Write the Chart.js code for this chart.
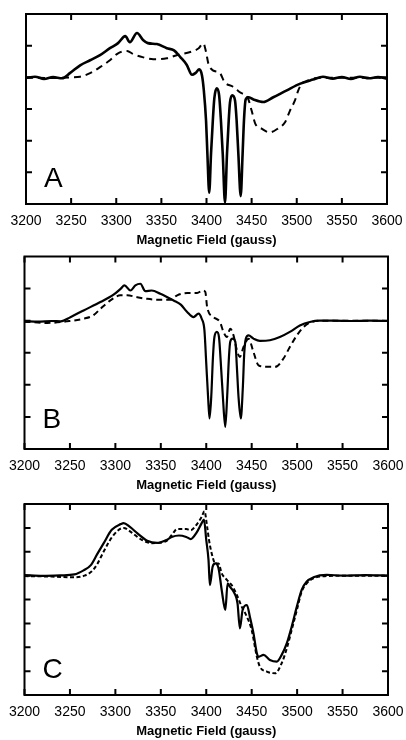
<!DOCTYPE html>
<html>
<head>
<meta charset="utf-8">
<script src="https://cdn.jsdelivr.net/npm/chart.js@4.4.1/dist/chart.umd.min.js"></script>
<style>
  body { margin: 0; background: #fff; }
  #wrap { position: relative; width: 406px; height: 740px; }
  #wrap canvas { position: absolute; left: 0; top: 0; }
</style>
</head>
<body>
<div id="wrap">
  <canvas id="chartA" width="406" height="248"></canvas>
  <canvas id="chartB" width="406" height="493"></canvas>
  <canvas id="chartC" width="406" height="739"></canvas>
</div>
<script>
// x ticks shared by all three panels
const fieldTicks = [3200, 3250, 3300, 3350, 3400, 3450, 3500, 3550, 3600];

// panel A
const aSolidField = [3200, 3210, 3220, 3230, 3240, 3249, 3260, 3271, 3282, 3293, 3302, 3310, 3315, 3323, 3330, 3335, 3345, 3356, 3364, 3371, 3378, 3384, 3388, 3392, 3395, 3397, 3399.5, 3401, 3403, 3405, 3407, 3408.7, 3411.3, 3414, 3416, 3418, 3420.5, 3422.7, 3424.6, 3426, 3428.6, 3431.6, 3433.4, 3435.3, 3437.9, 3440, 3441.5, 3443.4, 3446.3, 3452, 3463, 3474, 3489, 3504, 3518, 3529, 3540, 3550, 3560, 3570, 3580, 3590, 3600];
const aSolidValue = [3.98, 4.02, 3.95, 4.01, 3.97, 4.14, 4.38, 4.54, 4.7, 4.92, 5.08, 5.3, 5.11, 5.4, 5.17, 5.08, 5.05, 4.92, 4.85, 4.64, 4.4, 4.08, 4.14, 4.25, 4.06, 3.6, 2.63, 1.58, 0.36, 1.58, 2.63, 3.34, 3.65, 3.43, 2.63, 1.58, 0.04, 1.58, 2.63, 3.2, 3.43, 3.27, 2.63, 1.58, 0.25, 1.58, 2.63, 3.3, 3.37, 3.3, 3.22, 3.37, 3.59, 3.8, 3.93, 4.02, 3.96, 4.01, 3.95, 4.02, 3.97, 4.01, 3.96];
const aDashField = [3200, 3230, 3250, 3260, 3271, 3282, 3293, 3302, 3312, 3319, 3330, 3341, 3356, 3367, 3382, 3391, 3396.5, 3399.5, 3402, 3407, 3415, 3420, 3429, 3437, 3446, 3450, 3454, 3461, 3470, 3479, 3487, 3492.5, 3498, 3501.7, 3505.5, 3511, 3520, 3540, 3570, 3600];
const aDashValue = [3.99, 3.98, 4.0, 4.02, 4.13, 4.32, 4.54, 4.76, 4.83, 4.73, 4.63, 4.57, 4.6, 4.7, 4.8, 4.91, 5.07, 4.8, 4.44, 4.22, 4.13, 3.85, 3.71, 3.53, 3.33, 2.95, 2.54, 2.38, 2.26, 2.38, 2.58, 2.95, 3.27, 3.59, 3.8, 3.88, 3.97, 3.99, 3.99, 3.98];

// panel B
const bSolidField = [3200, 3215, 3230, 3240, 3250.5, 3265, 3283.5, 3298, 3306, 3310, 3316.5, 3322, 3327.5, 3333, 3340, 3349.5, 3364, 3372, 3379, 3386, 3391.5, 3395, 3398, 3400, 3402, 3403.6, 3405.5, 3407.4, 3409, 3411.7, 3414, 3416.5, 3418.3, 3420.9, 3423, 3425, 3426.4, 3429, 3432, 3433.7, 3435.5, 3438, 3440.3, 3441.8, 3443.6, 3446.5, 3452, 3459, 3470, 3481, 3492, 3503, 3514, 3525, 3540, 3560, 3580, 3600];
const bSolidValue = [3.98, 3.97, 3.99, 3.98, 4.11, 4.32, 4.58, 4.81, 5.0, 5.1, 4.94, 5.1, 5.15, 4.92, 4.94, 4.84, 4.63, 4.5, 4.27, 4.11, 4.22, 4.06, 3.7, 2.67, 1.63, 0.95, 1.63, 2.87, 3.49, 3.65, 3.49, 2.46, 1.63, 0.69, 1.63, 2.87, 3.34, 3.44, 3.34, 2.56, 1.63, 0.95, 1.94, 2.98, 3.44, 3.54, 3.44, 3.37, 3.39, 3.49, 3.65, 3.85, 3.96, 4.0, 4.0, 3.99, 4.0, 3.99];
const bDashField = [3200, 3225, 3247, 3265, 3276, 3283.5, 3294.5, 3305.5, 3313, 3324, 3335, 3349.5, 3360, 3368, 3379, 3390, 3396, 3399, 3401, 3408, 3415, 3419, 3422.7, 3426.4, 3430, 3433.7, 3437, 3441, 3446.5, 3452, 3457.5, 3466.7, 3476, 3485, 3492, 3499.7, 3507, 3515, 3530, 3560, 3600];
const bDashValue = [3.97, 3.93, 3.98, 4.06, 4.17, 4.37, 4.63, 4.79, 4.79, 4.73, 4.68, 4.65, 4.65, 4.79, 4.86, 4.86, 4.94, 4.89, 4.42, 4.11, 3.96, 3.65, 3.49, 3.75, 3.54, 3.08, 2.87, 3.18, 3.44, 3.02, 2.61, 2.56, 2.56, 2.82, 3.18, 3.54, 3.8, 3.95, 4.0, 4.0, 3.99];

// panel C
const cSolidField = [3200, 3220, 3240, 3255, 3265, 3273, 3280, 3287, 3296, 3306, 3309, 3316, 3324, 3335, 3346, 3356, 3362, 3370, 3378, 3383, 3389, 3395, 3397.5, 3400, 3402.5, 3404, 3407, 3410, 3413.5, 3417, 3421, 3423.5, 3426, 3430, 3434.4, 3437, 3440, 3444.7, 3448, 3452, 3455.7, 3457.5, 3463, 3470, 3477.7, 3483, 3488.7, 3494, 3499.7, 3505, 3510.6, 3518, 3532.6, 3550, 3575, 3600];
const cSolidValue = [5.02, 4.99, 5.01, 5.05, 5.22, 5.44, 5.9, 6.35, 6.92, 7.16, 7.2, 7.04, 6.78, 6.46, 6.37, 6.49, 6.62, 6.68, 6.62, 6.53, 6.78, 7.2, 7.35, 6.5, 5.65, 4.6, 5.37, 5.51, 5.31, 4.4, 3.56, 4.68, 4.54, 4.33, 3.84, 2.79, 3.56, 3.77, 3.28, 2.58, 1.75, 1.6, 1.68, 1.47, 1.4, 1.68, 2.17, 2.86, 3.7, 4.4, 4.75, 4.93, 5.03, 5.0, 5.02, 5.0];
const cDashField = [3200, 3230, 3256, 3266, 3274, 3280, 3287, 3298, 3309, 3318, 3329, 3340, 3356, 3362, 3368, 3378, 3383, 3389, 3395, 3398, 3401, 3403, 3406, 3410, 3413.5, 3417, 3422.7, 3428, 3433.7, 3439, 3444.7, 3450, 3455.7, 3459, 3466.7, 3475.8, 3483, 3488.7, 3494, 3499.7, 3505, 3510.6, 3518, 3532, 3560, 3600];
const cDashValue = [4.98, 4.96, 4.93, 5.0, 5.18, 5.48, 6.0, 6.7, 7.0, 6.8, 6.5, 6.36, 6.45, 6.7, 6.95, 6.95, 6.9, 7.12, 7.46, 7.7, 7.04, 6.5, 5.93, 5.51, 5.51, 5.1, 4.82, 4.6, 4.19, 3.7, 3.28, 2.72, 1.6, 1.19, 0.98, 0.91, 1.33, 1.96, 2.72, 3.56, 4.33, 4.68, 4.89, 4.98, 5.0, 4.99];

function toPoints(fields, values) {
    return fields.map((f, i) => ({ x: f, y: values[i] }));
}

// box, inward ticks and panel letter
const framePlugin = {
    id: 'frame',
    afterDraw(chart, args, opts) {
        const { ctx, chartArea: a, scales: { x, y } } = chart;
        ctx.save();
        ctx.strokeStyle = '#000';
        ctx.lineWidth = 2;
        ctx.strokeRect(a.left, a.top, a.right - a.left, a.bottom - a.top);
        ctx.beginPath();
        fieldTicks.forEach(f => {
            const px = x.getPixelForValue(f);
            ctx.moveTo(px, a.bottom);
            ctx.lineTo(px, a.bottom - 6);
            ctx.moveTo(px, a.top);
            ctx.lineTo(px, a.top + 6);
        });
        for (let v = 1; v < opts.yMax; v++) {
            const py = y.getPixelForValue(v);
            ctx.moveTo(a.left, py);
            ctx.lineTo(a.left + 6, py);
            ctx.moveTo(a.right, py);
            ctx.lineTo(a.right - 6, py);
        }
        ctx.stroke();
        ctx.fillStyle = '#000';
        ctx.font = '28px "Liberation Sans", Arial, sans-serif';
        ctx.textBaseline = 'alphabetic';
        ctx.fillText(opts.letter, a.left + 18, a.bottom - opts.letterLift);
        ctx.restore();
    }
};

function panel(id, letter, solid, dashed, yMax, pad, dash, solidWidth, letterLift) {
    const ctx = document.getElementById(id).getContext('2d');
    return new Chart(ctx, {
        type: 'line',
        data: {
            datasets: [
                {
                    data: solid,
                    borderColor: '#000',
                    borderWidth: solidWidth,
                    pointRadius: 0,
                    cubicInterpolationMode: 'monotone'
                },
                {
                    data: dashed,
                    borderColor: '#000',
                    borderWidth: 2,
                    borderDash: dash,
                    pointRadius: 0,
                    cubicInterpolationMode: 'monotone'
                }
            ]
        },
        options: {
            responsive: false,
            animation: false,
            devicePixelRatio: 1,
            layout: { padding: pad },
            plugins: {
                legend: { display: false },
                tooltip: { enabled: false },
                frame: { letter: letter, yMax: yMax, letterLift: letterLift }
            },
            scales: {
                x: {
                    type: 'linear',
                    min: 3200,
                    max: 3600,
                    grid: { display: false, drawTicks: false },
                    border: { display: false },
                    ticks: {
                        stepSize: 50,
                        padding: 0,
                        color: '#000',
                        callback: (value) => String(value),
                        font: { family: '"Liberation Sans", Arial, sans-serif', size: 14, lineHeight: '34px' }
                    },
                    title: {
                        display: true,
                        text: 'Magnetic Field (gauss)',
                        color: '#000',
                        padding: { top: 0, bottom: 0 },
                        font: { family: '"Liberation Sans", Arial, sans-serif', size: 13, weight: 'bold', lineHeight: 1.2 }
                    },
                    afterFit: (scale) => { scale.height = 44; }
                },
                y: {
                    display: false,
                    min: 0,
                    max: yMax
                }
            }
        },
        plugins: [framePlugin]
    });
}

panel('chartA', 'A', toPoints(aSolidField, aSolidValue), toPoints(aDashField, aDashValue), 6,
    { left: 26, right: 19, top: 14, bottom: 0 }, [7, 5], 2.6, 17);
panel('chartB', 'B', toPoints(bSolidField, bSolidValue), toPoints(bDashField, bDashValue), 6,
    { left: 24.5, right: 18, top: 256.5, bottom: 0 }, [6, 4], 2.2, 21);
panel('chartC', 'C', toPoints(cSolidField, cSolidValue), toPoints(cDashField, cDashValue), 8,
    { left: 24.5, right: 18, top: 504, bottom: 0 }, [4, 2.5], 2.2, 17);
</script>
</body>
</html>
